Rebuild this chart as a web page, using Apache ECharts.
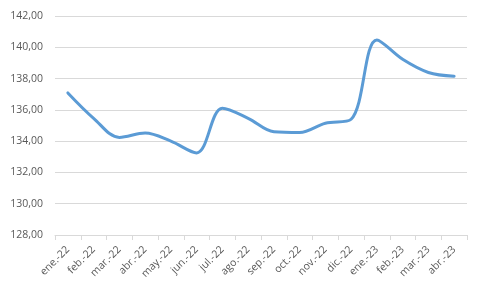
<!DOCTYPE html>
<html><head><meta charset="utf-8">
<script src="https://cdn.jsdelivr.net/npm/echarts@6/dist/echarts.min.js"></script>
<style>html,body{margin:0;padding:0;background:#fff}#c{width:484px;height:292px}</style>
</head><body><div id="c"></div>
<script>
const categories = ['ene.-22','feb.-22','mar.-22','abr.-22','may.-22','jun.-22','jul.-22','ago.-22','sep.-22','oct.-22','nov.-22','dic.-22','ene.-23','feb.-23','mar.-23','abr.-23'];
const values = [137.08,135.46,134.24,134.52,134.0,133.25,136.1,135.46,134.6,134.55,135.14,135.4,140.47,139.23,138.39,138.15];
const yMin = 128, yMax = 142, yStep = 2;

const chart = echarts.init(document.getElementById('c'), null, {renderer:'canvas'});
const txt = '#595959', font = 'Open Sans';
chart.setOption({
  animation:false,
  grid:{left:55,right:17,top:16,bottom:57},
  xAxis:{type:'category',data:categories,boundaryGap:true,
    axisLine:{lineStyle:{color:'#D9D9D9'}},
    axisTick:{show:true,length:5,lineStyle:{color:'#D9D9D9'}},
    axisLabel:{rotate:45,color:txt,fontFamily:font,fontSize:10.5,interval:0,margin:13}},
  yAxis:{type:'value',min:yMin,max:yMax,interval:yStep,
    axisLine:{show:false},axisTick:{show:false},
    splitLine:{lineStyle:{color:'#D9D9D9'}},
    axisLabel:{color:txt,fontFamily:font,fontSize:10.5,margin:12,
      formatter:v=>v.toFixed(2).replace('.',',')}},
  series:[{type:'line',data:values,smooth:0.35,smoothConstraint:false,symbol:'none',
    lineStyle:{color:'#5B9BD5',width:3,cap:'round'}}]
});
</script></body></html>
